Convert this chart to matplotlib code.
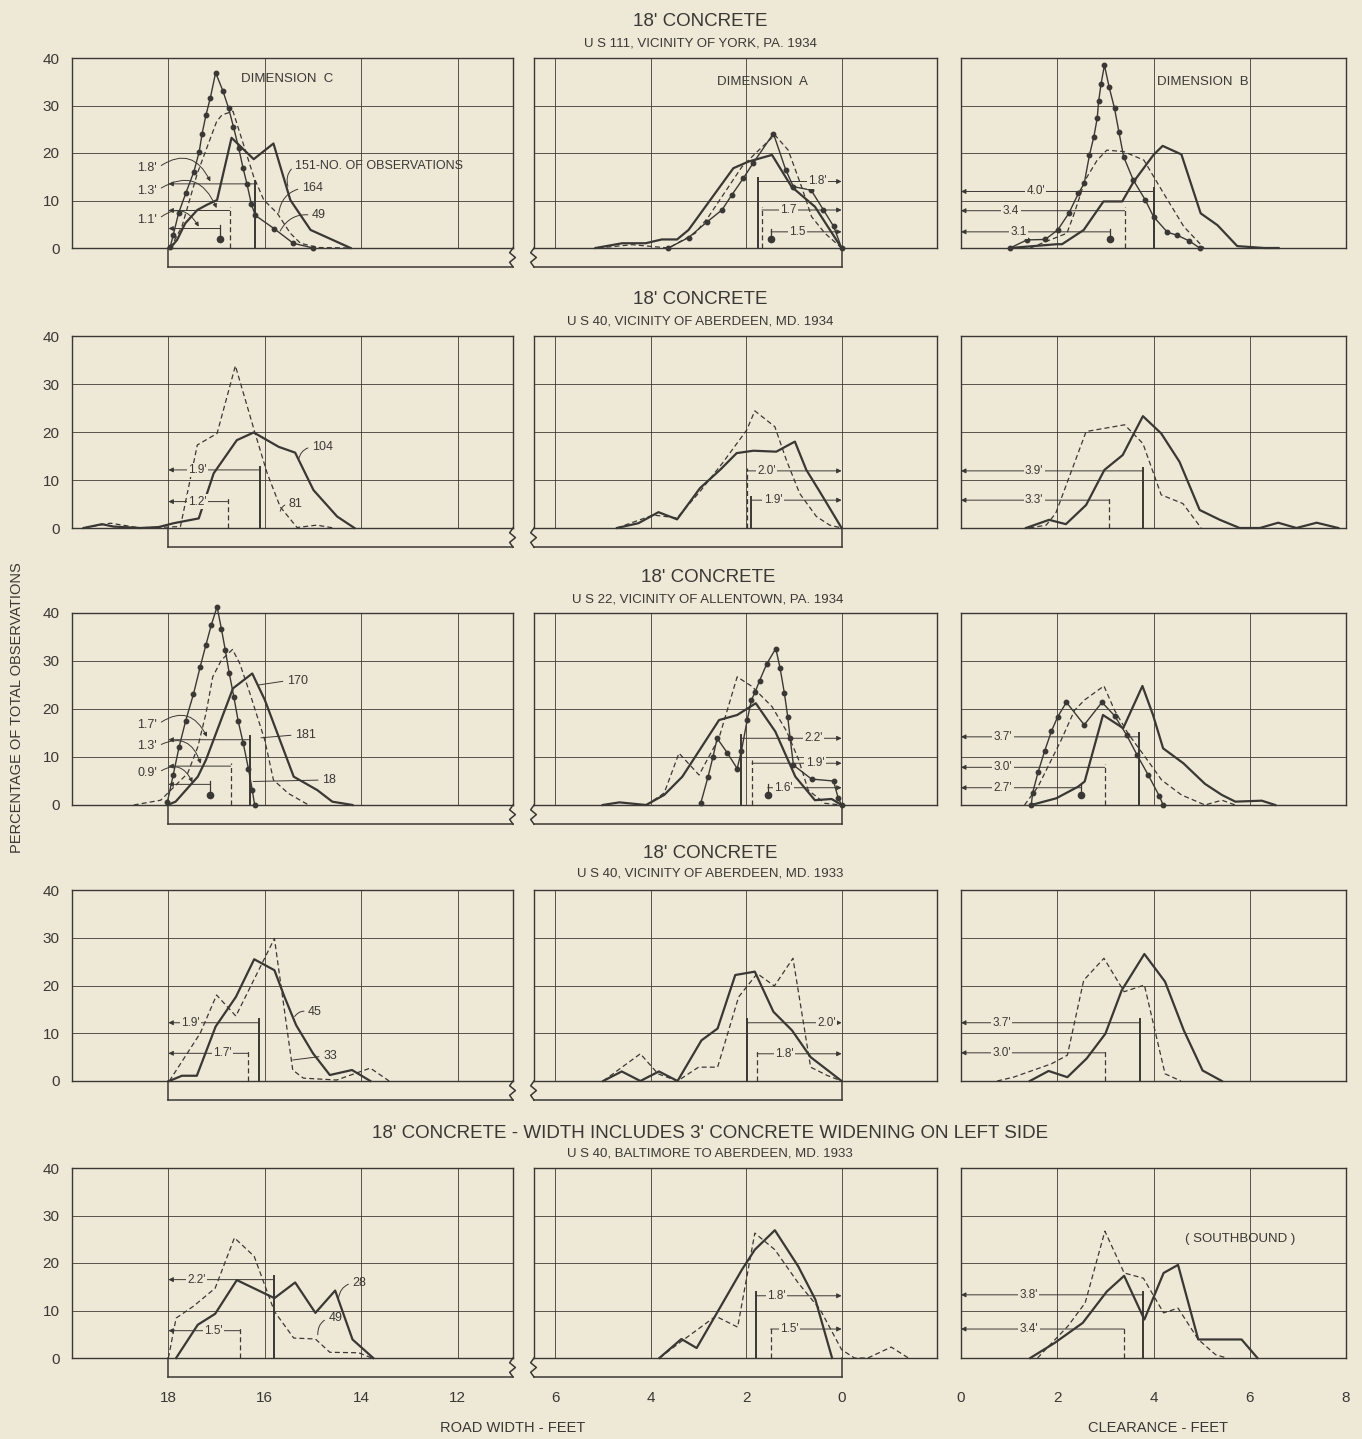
import matplotlib.pyplot as plt

plt.rcParams['font.family'] = ['Liberation Sans', 'DejaVu Sans']

INK = '#3a3834'
BG = '#eee8d7'

# ---------------- data ----------------
TITLES = ["18' CONCRETE", "18' CONCRETE", "18' CONCRETE", "18' CONCRETE",
          "18' CONCRETE - WIDTH INCLUDES 3' CONCRETE WIDENING ON LEFT SIDE"]
SUBTITLES = ["U S 111, VICINITY OF YORK, PA. 1934",
             "U S 40, VICINITY OF ABERDEEN, MD. 1934",
             "U S 22, VICINITY OF ALLENTOWN, PA. 1934",
             "U S 40, VICINITY OF ABERDEEN, MD. 1933",
             "U S 40, BALTIMORE TO ABERDEEN, MD. 1933"]

# row 1 - US 111 York 1934
R1C_SOLID_X = [17.96, 17.82, 17.65, 17.4, 17.2, 16.99, 16.69, 16.23, 15.82, 15.47, 15.05, 14.22]
R1C_SOLID_Y = [0, 1.7, 5.2, 8.0, 9.1, 10.1, 23.2, 18.7, 22.0, 10.1, 3.8, 0]
R1C_DASH_X = [17.96, 17.72, 17.58, 17.4, 17.0, 16.89, 16.66, 16.47, 16.23, 16.02, 15.74, 15.47, 15.26, 14.9, 14.2]
R1C_DASH_Y = [0, 4.5, 9.4, 15.7, 26.6, 28.0, 28.8, 22.7, 15.0, 10.1, 7.3, 3.1, 1.0, 0.1, 0]
R1C_DOT_X = [17.96, 17.9, 17.79, 17.64, 17.47, 17.36, 17.3, 17.22, 17.13, 17.02, 16.87, 16.75, 16.65,
             16.54, 16.45, 16.37, 16.28, 16.2, 15.81, 15.41, 15.0]
R1C_DOT_Y = [0.3, 2.7, 7.3, 11.5, 16.1, 20.3, 24.1, 28.0, 31.6, 36.9, 33.1, 29.4, 25.5,
             21.0, 16.8, 13.5, 9.3, 6.9, 4.1, 1.0, 0]
R1C_MEANS = [16.2, 16.73, 16.92]
R1C_LABELS = ["1.8'", "1.3'", "1.1'"]

R1A_SOLID_X = [5.16, 4.6, 4.11, 3.77, 3.45, 3.21, 2.27, 1.95, 1.46, 1.05, 0.56, 0]
R1A_SOLID_Y = [0, 1.0, 1.0, 1.8, 1.8, 3.8, 16.8, 18.2, 19.6, 12.9, 8.7, 0]
R1A_DASH_X = [5.1, 4.39, 3.63, 3.07, 2.79, 2.37, 2.09, 1.81, 1.4, 1.12, 0.84, 0.63, 0.35, 0]
R1A_DASH_Y = [0, 0.7, 0, 3.1, 6.6, 12.9, 17.1, 19.9, 23.8, 20.6, 12.9, 6.6, 3.1, 0]
R1A_DOT_X = [3.63, 3.21, 2.82, 2.51, 2.3, 2.06, 1.86, 1.43, 1.17, 1.01, 0.64, 0.38, 0.17, 0]
R1A_DOT_Y = [0, 2.2, 5.5, 8.0, 11.2, 14.7, 17.8, 24.1, 16.4, 12.9, 12.2, 8.0, 4.6, 0]
R1A_MEANS = [1.76, 1.67, 1.48]
R1A_LABELS = ["1.8'", "1.7", "1.5"]

R1B_SOLID_X = [1.02, 1.99, 2.1, 2.55, 2.96, 3.35, 3.59, 4.0, 4.19, 4.58, 4.98, 5.33, 5.74, 6.3, 6.6]
R1B_SOLID_Y = [0, 0.8, 0.8, 3.8, 9.8, 9.8, 14.0, 19.6, 21.5, 19.7, 7.3, 4.8, 0.4, 0, 0]
R1B_DASH_X = [1.44, 1.85, 2.2, 2.34, 2.58, 2.83, 3.03, 3.38, 3.8, 4.21, 4.63, 5.05]
R1B_DASH_Y = [0, 1.7, 3.1, 6.9, 14.3, 18.5, 20.6, 20.3, 18.5, 11.5, 4.5, 0]
R1B_DOT_X = [1.02, 1.37, 1.75, 2.01, 2.24, 2.44, 2.56, 2.67, 2.76, 2.83, 2.86, 2.91, 2.98, 3.08,
             3.19, 3.28, 3.38, 3.58, 3.83, 4.0, 4.29, 4.49, 4.74, 4.96]
R1B_DOT_Y = [0, 1.7, 1.8, 3.8, 7.3, 11.5, 13.6, 19.6, 23.4, 27.3, 30.9, 34.5, 38.5, 33.8,
             29.4, 24.5, 19.2, 14.3, 10.1, 6.6, 3.3, 2.7, 1.5, 0]
R1B_MEANS = [4.0, 3.4, 3.1]
R1B_LABELS = ["4.0'", "3.4", "3.1"]

# row 2 - US 40 Aberdeen 1934
R2C_SOLID_X = [19.76, 19.38, 19.14, 18.58, 18.2, 17.89, 17.37, 17.06, 16.58, 16.23, 15.71, 15.37, 14.99, 14.5, 14.14]
R2C_SOLID_Y = [0, 0.8, 0.3, 0, 0.2, 1.0, 2.0, 11.4, 18.3, 19.9, 16.9, 15.7, 7.9, 2.4, 0]
R2C_DASH_X = [19.76, 19.2, 18.58, 17.75, 17.4, 16.99, 16.61, 16.2, 15.95, 15.68, 15.33, 14.92, 14.57]
R2C_DASH_Y = [0, 1.0, 0, 0.3, 17.3, 19.7, 33.8, 19.7, 11.4, 4.4, 0.1, 0.6, 0]
R2C_MEANS = [16.1, 16.77]
R2C_LABELS = ["1.9'", "1.2'"]

R2A_SOLID_X = [4.71, 4.26, 3.84, 3.45, 2.97, 2.55, 2.2, 1.85, 1.37, 0.98, 0.74, 0.46, 0]
R2A_SOLID_Y = [0, 1.0, 3.3, 1.8, 8.3, 12.1, 15.6, 16.1, 15.9, 18.0, 12.1, 7.6, 0]
R2A_DASH_X = [4.71, 3.95, 3.45, 2.97, 2.5, 1.99, 1.82, 1.4, 1.16, 0.88, 0.53, 0.25, 0]
R2A_DASH_Y = [0, 2.7, 2.1, 7.6, 13.5, 20.4, 24.4, 21.1, 14.2, 7.2, 2.4, 0.6, 0]
R2A_MEANS = [1.89, 1.99]
R2A_LABELS = ["1.9'", "2.0'"]

R2B_SOLID_X = [1.35, 1.83, 2.18, 2.6, 2.98, 3.36, 3.78, 4.16, 4.54, 4.96, 5.38, 5.79, 6.21, 6.59, 6.97, 7.39, 7.84]
R2B_SOLID_Y = [0, 1.7, 0.8, 4.8, 12.1, 15.2, 23.3, 19.7, 13.8, 3.75, 1.7, 0, 0, 1.1, 0, 1.1, 0]
R2B_DASH_X = [1.42, 1.77, 1.97, 2.6, 3.4, 3.78, 4.16, 4.61, 4.99]
R2B_DASH_Y = [0, 0.6, 3.1, 20.1, 21.5, 17.6, 6.9, 5.1, 0]
R2B_MEANS = [3.79, 3.07]
R2B_LABELS = ["3.9'", "3.3'"]

# row 3 - US 22 Allentown 1934
R3C_SOLID_X = [18.02, 17.85, 17.39, 17.22, 16.66, 16.26, 16.0, 15.4, 14.91, 14.6, 14.18]
R3C_SOLID_Y = [0, 0.7, 5.9, 9.4, 24.3, 27.4, 21.9, 5.9, 3.1, 0.7, 0]
R3C_DASH_X = [18.72, 18.16, 17.6, 17.39, 17.22, 17.08, 16.9, 16.67, 16.52, 16.31, 16.0, 15.82, 15.51, 15.09]
R3C_DASH_Y = [0, 1.0, 6.6, 12.1, 19.1, 26.7, 30.2, 32.4, 29.5, 23.3, 13.5, 5.2, 2.4, 0]
R3C_DOT_X = [18.02, 17.9, 17.78, 17.64, 17.48, 17.34, 17.22, 17.11, 16.99, 16.9, 16.82, 16.74,
             16.64, 16.55, 16.45, 16.34, 16.26, 16.21]
R3C_DOT_Y = [0.7, 6.25, 12.0, 17.6, 23.1, 28.8, 33.4, 37.5, 41.3, 36.7, 32.3, 27.6,
             22.4, 17.4, 13.0, 7.6, 3.1, 0]
R3C_MEANS = [16.31, 16.71, 17.13]
R3C_LABELS = ["1.7'", "1.3'", "0.9'"]

R3A_SOLID_X = [5.01, 4.66, 4.1, 3.72, 3.34, 2.57, 2.19, 1.8, 1.39, 0.97, 0.56, 0.21, 0]
R3A_SOLID_Y = [0, 0.55, 0, 2.1, 5.9, 17.7, 18.75, 21.2, 15.3, 5.9, 1.0, 1.25, 0]
R3A_DASH_X = [4.09, 3.72, 3.41, 2.99, 2.57, 2.19, 1.88, 1.46, 1.15, 0.9, 0.7, 0.35, 0]
R3A_DASH_Y = [0, 2.5, 10.8, 6.25, 14.0, 26.7, 24.7, 20.5, 15.3, 9.4, 3.1, 0.35, 0]
R3A_DOT_X = [2.95, 2.8, 2.7, 2.61, 2.4, 2.19, 2.1, 1.98, 1.89, 1.81, 1.72, 1.57, 1.38, 1.29,
             1.2, 1.13, 1.08, 1.01, 0.63, 0.17, 0.07, 0]
R3A_DOT_Y = [0.5, 5.9, 9.9, 13.9, 10.9, 7.6, 11.3, 17.7, 21.9, 23.6, 25.9, 29.4, 32.6, 28.5,
             23.3, 18.4, 14.0, 8.3, 5.4, 5.0, 1.4, 0]
R3A_MEANS = [2.1, 1.88, 1.55]
R3A_LABELS = ["2.2'", "1.9'", "1.6'"]

R3B_SOLID_X = [1.46, 1.98, 2.43, 2.57, 2.95, 3.37, 3.77, 3.99, 4.2, 4.62, 5.07, 5.42, 5.7, 6.25, 6.53]
R3B_SOLID_Y = [0, 1.4, 3.8, 4.9, 18.75, 16.0, 24.8, 18.75, 11.8, 8.7, 4.4, 2.1, 0.7, 0.9, 0]
R3B_DASH_X = [1.32, 1.6, 2.08, 2.36, 2.57, 2.97, 3.19, 3.47, 3.82, 4.17, 4.58, 5.07, 5.42, 5.7]
R3B_DASH_Y = [0, 3.8, 13.5, 19.75, 21.9, 24.8, 19.75, 14.9, 10.1, 5.2, 2.1, 0, 1.0, 0]
R3B_DOT_X = [1.46, 1.49, 1.6, 1.74, 1.88, 2.01, 2.19, 2.56, 2.93, 3.19, 3.44, 3.66, 3.89, 4.12, 4.2]
R3B_DOT_Y = [0, 2.6, 6.8, 11.3, 15.4, 18.4, 21.4, 16.7, 21.4, 18.6, 14.6, 10.4, 6.25, 1.9, 0]
R3B_MEANS = [3.7, 2.99, 2.5]
R3B_LABELS = ["3.7'", "3.0'", "2.7'"]

# row 4 - US 40 Aberdeen 1933
R4C_SOLID_X = [17.98, 17.72, 17.41, 17.02, 16.6, 16.22, 15.8, 15.59, 15.35, 15.0, 14.65, 14.19, 13.81]
R4C_SOLID_Y = [0, 1.1, 1.1, 11.4, 17.6, 25.5, 23.2, 17.6, 11.7, 5.8, 1.25, 2.3, 0]
R4C_DASH_X = [17.98, 17.34, 17.0, 16.6, 15.8, 15.42, 15.2, 14.51, 13.81, 13.42]
R4C_DASH_Y = [0, 10.0, 18.0, 13.6, 29.85, 2.3, 0.6, 0.2, 2.7, 0]
R4C_MEANS = [16.11, 16.34]
R4C_LABELS = ["1.9'", "1.7'"]

R4A_SOLID_X = [5.0, 4.61, 4.22, 3.83, 3.44, 2.94, 2.6, 2.23, 1.82, 1.43, 1.04, 0.65, 0]
R4A_SOLID_Y = [0, 2.0, 0, 2.0, 0, 8.5, 11.0, 22.2, 22.9, 14.5, 10.6, 5.0, 0]
R4A_DASH_X = [5.0, 4.22, 3.85, 3.44, 3.0, 2.6, 2.16, 1.77, 1.41, 1.02, 0.65, 0.31, 0]
R4A_DASH_Y = [0, 5.7, 1.5, 0, 2.9, 2.9, 17.6, 22.5, 19.9, 25.7, 2.9, 1.2, 0]
R4A_MEANS = [1.99, 1.77]
R4A_LABELS = ["2.0'", "1.8'"]

R4B_SOLID_X = [1.43, 1.82, 2.21, 2.61, 3.0, 3.34, 3.81, 4.24, 4.63, 5.02, 5.42]
R4B_SOLID_Y = [0, 2.1, 0.8, 4.7, 9.9, 19.0, 26.6, 20.8, 10.6, 2.2, 0]
R4B_DASH_X = [0.75, 1.09, 1.88, 2.21, 2.55, 2.97, 3.39, 3.81, 4.24, 4.57]
R4B_DASH_Y = [0, 0.8, 3.6, 5.4, 21.1, 25.7, 18.7, 20.1, 1.5, 0]
R4B_MEANS = [3.71, 3.0]
R4B_LABELS = ["3.7'", "3.0'"]

# row 5 - US 40 Baltimore to Aberdeen 1933
R5C_SOLID_X = [17.84, 17.39, 17.03, 16.58, 15.8, 15.37, 14.95, 14.54, 14.18, 13.75]
R5C_SOLID_Y = [0, 7.0, 9.3, 16.4, 12.6, 15.9, 9.5, 14.2, 3.9, 0]
R5C_DASH_X = [18.0, 17.84, 17.48, 17.03, 16.63, 16.22, 15.8, 15.4, 14.95, 14.65, 14.05, 13.78]
R5C_DASH_Y = [0, 8.4, 10.9, 14.7, 25.3, 21.4, 9.8, 4.2, 4.0, 1.2, 1.1, 0]
R5C_MEANS = [15.8, 16.52]
R5C_LABELS = ["2.2'", "1.5'"]

R5A_SOLID_X = [3.82, 3.36, 3.04, 2.09, 1.82, 1.4, 0.91, 0.55, 0.2]
R5A_SOLID_Y = [0, 4.0, 2.1, 18.6, 22.8, 26.9, 19.3, 12.3, 0]
R5A_DASH_X = [3.82, 3.36, 2.64, 2.18, 1.82, 1.4, 0.91, 0.45, 0, -0.27, -0.55, -1.04, -1.4]
R5A_DASH_Y = [0, 3.5, 8.8, 6.5, 26.3, 22.8, 15.8, 10.2, 1.75, 0, 0, 2.3, 0]
R5A_MEANS = [1.8, 1.49]
R5A_LABELS = ["1.8'", "1.5'"]

R5B_SOLID_X = [1.44, 1.95, 2.53, 3.03, 3.39, 3.81, 4.21, 4.51, 4.93, 5.83, 6.16]
R5B_SOLID_Y = [0, 3.2, 7.4, 14.0, 17.3, 8.1, 17.9, 19.6, 3.9, 3.9, 0]
R5B_DASH_X = [1.59, 2.22, 2.58, 2.99, 3.39, 3.79, 4.21, 4.51, 4.93, 5.29, 5.52]
R5B_DASH_Y = [0, 6.7, 11.6, 26.7, 17.9, 16.8, 9.5, 10.5, 3.9, 0.7, 0]
R5B_MEANS = [3.79, 3.39]
R5B_LABELS = ["3.8'", "3.4'"]

Y_TICKS = [0, 10, 20, 30, 40]
X_TICKS = [[18, 16, 14, 12], [6, 4, 2, 0], [0, 2, 4, 6, 8]]

# ---------------- layout ----------------
W, H = 1362, 1439
fig = plt.figure(figsize=(W / 100, H / 100), dpi=100, facecolor=BG)

COLS = [(72, 513), (534, 937), (961, 1346)]
ROWS = [(58, 248), (336, 528), (613, 805), (890, 1081), (1168, 1358)]
XLIMS = [(20, 10.85), (6.45, -2.0), (0, 8)]
REF = [18, 0, 0]   # edge the dimensions are measured from


def make_panel(r, c):
    x0, x1 = COLS[c]
    y0, y1 = ROWS[r]
    ax = fig.add_axes([x0 / W, 1 - y1 / H, (x1 - x0) / W, (y1 - y0) / H])
    ax.set_facecolor(BG)
    ax.set_xlim(*XLIMS[c])
    ax.set_ylim(0, 40)
    ax.set_xticks(X_TICKS[c])
    ax.set_yticks(Y_TICKS)
    ax.grid(True, color=INK, lw=0.7, alpha=0.85)
    ax.set_axisbelow(True)
    for s in ax.spines.values():
        s.set_color(INK)
        s.set_linewidth(1.0)
    ax.tick_params(length=0, colors=INK, labelsize=11)
    ax.tick_params(axis='y', pad=9, labelleft=(c == 0))
    ax.tick_params(axis='x', pad=24, labelbottom=(r == 4))
    # the road strip under the road-width panels
    if c in (0, 1):
        lo, hi = ax.get_xlim()
        if c == 0:
            a, b = REF[0], hi
            sq = b
        else:
            a, b = lo, REF[1]
            sq = a
        kw = dict(color=INK, lw=1.1, clip_on=False, zorder=3)
        ax.plot([a, b], [-4, -4], **kw)
        ax.plot([a if c == 0 else b] * 2, [0, -4], **kw)
        ax.plot([sq, sq + 0.07, sq - 0.05, sq + 0.07, sq], [0, -1, -2, -3, -4], **kw)
    return ax


def draw_series(ax, x, y, kind):
    if kind == 'solid':
        ax.plot(x, y, color=INK, lw=1.6, clip_on=False, zorder=4)
    elif kind == 'dash':
        ax.plot(x, y, color=INK, lw=0.9, ls=(0, (4, 2.5)), clip_on=False, zorder=4)
    else:
        ax.plot(x, y, color=INK, lw=1.0, marker='o', ms=3.2, clip_on=False, zorder=4)


def draw_mean(ax, xm, ref, ay, kind, label=None, lx=None):
    top = ay + 0.7
    if kind == 'solid':
        ax.plot([xm, xm], [0, top], color=INK, lw=1.4, zorder=4)
    elif kind == 'dash':
        ax.plot([xm, xm], [0, top], color=INK, lw=0.9, ls=(0, (4, 2.5)), zorder=4)
    else:
        ax.plot([xm, xm], [2.0, top], color=INK, lw=0.9, zorder=4)
        ax.plot([xm], [2.0], 'o', color=INK, ms=4.5, zorder=5)
    ax.annotate('', xy=(ref, ay), xytext=(xm, ay),
                arrowprops=dict(arrowstyle='-|>', color=INK, lw=0.7, mutation_scale=7,
                                shrinkA=0, shrinkB=0), zorder=4)
    if label is not None:
        ax.text(lx, ay, label, ha='center', va='center', fontsize=8.5, color=INK, zorder=6,
                bbox=dict(boxstyle='square,pad=0.12', fc=BG, ec='none'))


def side_label(ax, text, pos, target, rad=-0.6):
    ax.annotate(text, xy=target, xytext=pos, fontsize=9, color=INK, ha='left', va='center',
                arrowprops=dict(arrowstyle='-|>', color=INK, lw=0.7, mutation_scale=6,
                                connectionstyle='arc3,rad=%s' % rad, relpos=(1, 0.5),
                                shrinkA=1, shrinkB=0))


def count_label(ax, text, pos, target, rad=0.35):
    ax.annotate(text, xy=target, xytext=pos, fontsize=9, color=INK, ha='left', va='center',
                arrowprops=dict(arrowstyle='-', color=INK, lw=0.7,
                                connectionstyle='arc3,rad=%s' % rad, relpos=(0, 0.5),
                                shrinkA=1, shrinkB=0))


KINDS3 = ['solid', 'dash', 'dot']

# per panel: series, means, labels, arrow heights, inline label x (None -> side labels)
SPECS = [
    (0, 0, [(R1C_SOLID_X, R1C_SOLID_Y), (R1C_DASH_X, R1C_DASH_Y), (R1C_DOT_X, R1C_DOT_Y)],
     R1C_MEANS, R1C_LABELS, [13.5, 7.9, 4.1], None),
    (0, 1, [(R1A_SOLID_X, R1A_SOLID_Y), (R1A_DASH_X, R1A_DASH_Y), (R1A_DOT_X, R1A_DOT_Y)],
     R1A_MEANS, R1A_LABELS, [14.0, 8.0, 3.4], [0.5, 1.12, 0.92]),
    (0, 2, [(R1B_SOLID_X, R1B_SOLID_Y), (R1B_DASH_X, R1B_DASH_Y), (R1B_DOT_X, R1B_DOT_Y)],
     R1B_MEANS, R1B_LABELS, [11.9, 7.85, 3.4], [1.55, 1.04, 1.19]),
    (1, 0, [(R2C_SOLID_X, R2C_SOLID_Y), (R2C_DASH_X, R2C_DASH_Y)],
     R2C_MEANS, R2C_LABELS, [12.1, 5.5], [17.4, 17.4]),
    (1, 1, [(R2A_SOLID_X, R2A_SOLID_Y), (R2A_DASH_X, R2A_DASH_Y)],
     R2A_MEANS, R2A_LABELS, [5.8, 11.9], [1.44, 1.58]),
    (1, 2, [(R2B_SOLID_X, R2B_SOLID_Y), (R2B_DASH_X, R2B_DASH_Y)],
     R2B_MEANS, R2B_LABELS, [11.9, 5.8], [1.52, 1.52]),
    (2, 0, [(R3C_SOLID_X, R3C_SOLID_Y), (R3C_DASH_X, R3C_DASH_Y), (R3C_DOT_X, R3C_DOT_Y)],
     R3C_MEANS, R3C_LABELS, [13.6, 8.1, 4.3], None),
    (2, 1, [(R3A_SOLID_X, R3A_SOLID_Y), (R3A_DASH_X, R3A_DASH_Y), (R3A_DOT_X, R3A_DOT_Y)],
     R3A_MEANS, R3A_LABELS, [13.9, 8.7, 3.6], [0.59, 0.56, 1.22]),
    (2, 2, [(R3B_SOLID_X, R3B_SOLID_Y), (R3B_DASH_X, R3B_DASH_Y), (R3B_DOT_X, R3B_DOT_Y)],
     R3B_MEANS, R3B_LABELS, [14.2, 7.85, 3.6], [0.87, 0.87, 0.87]),
    (3, 0, [(R4C_SOLID_X, R4C_SOLID_Y), (R4C_DASH_X, R4C_DASH_Y)],
     R4C_MEANS, R4C_LABELS, [12.2, 5.8], [17.54, 16.88]),
    (3, 1, [(R4A_SOLID_X, R4A_SOLID_Y), (R4A_DASH_X, R4A_DASH_Y)],
     R4A_MEANS, R4A_LABELS, [12.2, 5.7], [0.31, 1.2]),
    (3, 2, [(R4B_SOLID_X, R4B_SOLID_Y), (R4B_DASH_X, R4B_DASH_Y)],
     R4B_MEANS, R4B_LABELS, [12.2, 5.9], [0.84, 0.84]),
    (4, 0, [(R5C_SOLID_X, R5C_SOLID_Y), (R5C_DASH_X, R5C_DASH_Y)],
     R5C_MEANS, R5C_LABELS, [16.5, 5.75], [17.42, 17.06]),
    (4, 1, [(R5A_SOLID_X, R5A_SOLID_Y), (R5A_DASH_X, R5A_DASH_Y)],
     R5A_MEANS, R5A_LABELS, [13.1, 6.1], [1.36, 1.09]),
    (4, 2, [(R5B_SOLID_X, R5B_SOLID_Y), (R5B_DASH_X, R5B_DASH_Y)],
     R5B_MEANS, R5B_LABELS, [13.3, 6.1], [1.41, 1.41]),
]

axes = {}
for r, c, series, means, labels, arrow_y, label_x in SPECS:
    ax = make_panel(r, c)
    axes[(r, c)] = ax
    for (x, y), kind in zip(series, KINDS3):
        draw_series(ax, x, y, kind)
    for i, (xm, lab, ay) in enumerate(zip(means, labels, arrow_y)):
        lx = None if label_x is None else label_x[i]
        draw_mean(ax, xm, REF[c], ay, KINDS3[i], None if label_x is None else lab, lx)

# side labels with curved leaders (rows 1 and 3, dimension C)
ax = axes[(0, 0)]
side_label(ax, R1C_LABELS[0], (18.64, 16.8), (17.13, 14.0))
side_label(ax, R1C_LABELS[1], (18.64, 12.1), (17.0, 8.4))
side_label(ax, R1C_LABELS[2], (18.64, 5.9), (17.37, 4.5))
count_label(ax, '151-NO. OF OBSERVATIONS', (15.37, 17.3), (15.52, 13.0))
count_label(ax, '164', (15.23, 12.6), (15.71, 7.4))
count_label(ax, '49', (15.02, 6.9), (15.68, 3.6))
ax.text(16.5, 35.5, 'DIMENSION  C', fontsize=9.5, color=INK, va='center')

ax = axes[(2, 0)]
side_label(ax, R3C_LABELS[0], (18.64, 16.7), (17.2, 14.2))
side_label(ax, R3C_LABELS[1], (18.64, 12.2), (17.33, 8.6))
side_label(ax, R3C_LABELS[2], (18.64, 6.6), (17.5, 4.7))
count_label(ax, '170', (15.54, 25.9), (16.13, 25.0), rad=0.0)
count_label(ax, '181', (15.37, 14.6), (16.08, 14.0), rad=0.0)
count_label(ax, '18', (14.81, 5.2), (16.24, 4.9), rad=0.0)

count_label(axes[(1, 0)], '104', (15.02, 16.9), (15.3, 14.2))
count_label(axes[(1, 0)], '81', (15.5, 5.0), (15.68, 3.5))
count_label(axes[(3, 0)], '45', (15.1, 14.5), (15.38, 13.5))
count_label(axes[(3, 0)], '33', (14.79, 5.2), (15.42, 4.4), rad=0.0)
count_label(axes[(4, 0)], '28', (14.18, 15.8), (14.47, 12.6))
count_label(axes[(4, 0)], '49', (14.68, 8.4), (14.9, 4.9))

axes[(0, 1)].text(2.61, 35, 'DIMENSION  A', fontsize=9.5, color=INK, va='center')
axes[(0, 2)].text(4.08, 35, 'DIMENSION  B', fontsize=9.5, color=INK, va='center')
axes[(4, 2)].text(4.66, 25, '( SOUTHBOUND )', fontsize=9.5, color=INK, va='center')

# titles
TITLE_Y = [22, 299, 577, 854, 1133]
SUB_Y = [44, 322, 599, 874, 1153]
TITLE_X = [700, 700, 708, 710, 710]
for t, s, ty, sy, tx in zip(TITLES, SUBTITLES, TITLE_Y, SUB_Y, TITLE_X):
    fig.text(tx / W, 1 - ty / H, t, ha='center', va='center', fontsize=13.5, color=INK)
    fig.text(tx / W, 1 - sy / H, s, ha='center', va='center', fontsize=9.5, color=INK)

fig.text(17 / W, 1 - 708 / H, 'PERCENTAGE OF TOTAL OBSERVATIONS', rotation=90,
         ha='center', va='center', fontsize=10.5, color=INK)
fig.text(513 / W, 1 - 1428 / H, 'ROAD WIDTH - FEET', ha='center', va='center',
         fontsize=10.5, color=INK)
fig.text(1158 / W, 1 - 1428 / H, 'CLEARANCE - FEET', ha='center', va='center',
         fontsize=10.5, color=INK)

fig.savefig('out.png', dpi=100, facecolor=BG)
